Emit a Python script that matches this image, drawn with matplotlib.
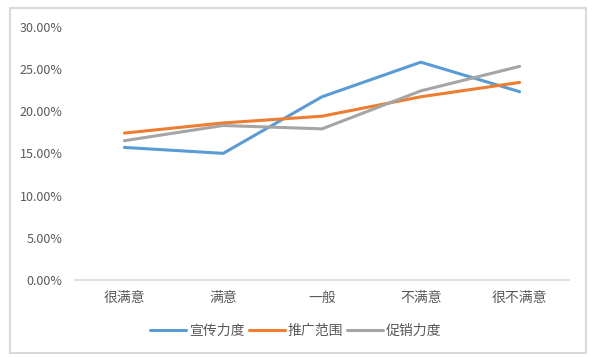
import matplotlib.pyplot as plt
from matplotlib.patches import Rectangle
from matplotlib.ticker import PercentFormatter

plt.rcParams["font.family"] = ["Noto Sans CJK SC", "DejaVu Sans"]

categories = ["很满意", "满意", "一般", "不满意", "很不满意"]
series_names = ["宣传力度", "推广范围", "促销力度"]
publicity = [15.7, 15.0, 21.7, 25.8, 22.3]
coverage = [17.4, 18.6, 19.4, 21.7, 23.4]
promotion = [16.5, 18.3, 17.9, 22.4, 25.3]
colors = ["#5B9BD5", "#ED7D31", "#A5A5A5"]

W, H = 605, 357


def main() -> None:
    fig = plt.figure(figsize=(W / 100, H / 100), dpi=100)
    fig.patches.append(Rectangle((10 / W, 1 - 353 / H), 576 / W, 345 / H,
                                 transform=fig.transFigure, fill=False,
                                 edgecolor="#d9d9d9", linewidth=1.5))
    ax = fig.add_axes([75 / W, 77 / H, 494 / W, 253.3 / H])

    x = range(len(categories))
    for name, values, color in zip(series_names, [publicity, coverage, promotion], colors):
        ax.plot(x, [v / 100 for v in values], color=color, linewidth=2.2,
                label=name, solid_capstyle="round")

    ax.set_xlim(-0.5, len(categories) - 0.5)
    ax.set_ylim(0, 0.30)
    ax.set_yticks([i * 0.05 for i in range(7)])
    ax.yaxis.set_major_formatter(PercentFormatter(1.0, decimals=2))
    ax.set_xticks(list(x))
    ax.set_xticklabels(categories)

    for side in ("top", "right", "left"):
        ax.spines[side].set_visible(False)
    ax.spines["bottom"].set_color("#d9d9d9")
    ax.spines["bottom"].set_linewidth(1.2)
    ax.tick_params(axis="both", length=0, labelcolor="#595959")
    ax.tick_params(axis="y", pad=9, labelsize=9)
    ax.tick_params(axis="x", pad=8, labelsize=10)

    fig.legend(loc="center", bbox_to_anchor=(296 / W, 1 - 331 / H), ncol=3,
               frameon=False, fontsize=10, handlelength=2.6, handletextpad=0.2,
               columnspacing=0.3, labelcolor="#595959")

    fig.savefig("out.png", dpi=100)
    plt.close(fig)


if __name__ == "__main__":
    main()
